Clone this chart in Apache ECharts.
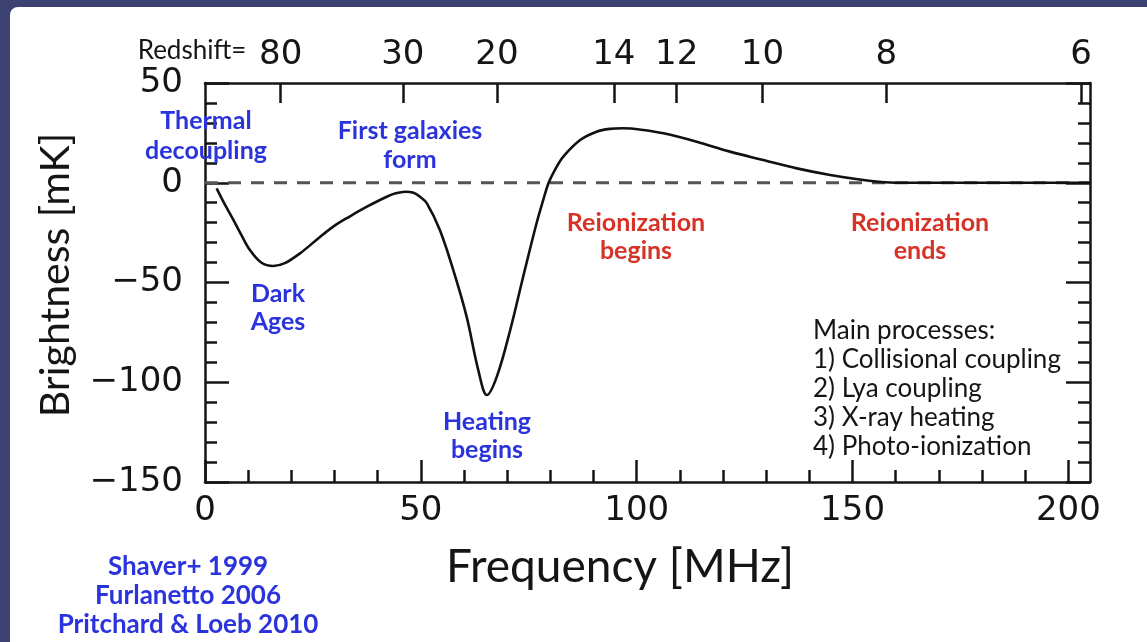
<!DOCTYPE html>
<html>
<head>
<meta charset="utf-8">
<script src="https://cdn.jsdelivr.net/npm/echarts@6/dist/echarts.min.js"></script>
<style>
  html, body { margin: 0; padding: 0; background: #3c4371; }
  #paper { position: absolute; left: 10px; top: 7px; width: 1137px; height: 635px; background: #ffffff; border-top-left-radius: 8px; }
  #chart { position: absolute; left: 0; top: 0; width: 1147px; height: 642px; }
</style>
</head>
<body>
<div id="paper"></div>
<div id="chart"></div>
<script>
// ---- data ----
const freqMHz = [2.7, 4.5, 6.6, 8.5, 10.4, 13.1, 15.8, 18.5, 22.0, 25.8, 29.7, 33.6, 37.5, 42.1, 44.2, 46.4, 48.3, 49.8, 51.4, 54.4, 57.5, 60.6, 63.3, 65.3, 67.6, 70.7, 73.7, 76.8, 78.3, 79.6, 81.2, 83.0, 86.9, 90.7, 93.8, 96.9, 101.0, 106.2, 113.9, 121.6, 129.3, 137.1, 144.8, 152.5, 158.7, 161.5, 205.0];
const brightness_mK = [-2.8, -10.5, -18.7, -26.5, -33.7, -40.1, -41.7, -40.3, -35.4, -28.7, -22.0, -16.8, -12.0, -7.0, -5.3, -4.5, -5.0, -7.0, -10.3, -23.7, -43.7, -67.1, -93.9, -106.4, -97.2, -73.8, -47.1, -20.3, -9.0, 0.0, 7.0, 13.1, 21.4, 25.6, 27.0, 27.3, 26.6, 24.8, 20.6, 15.6, 11.4, 7.2, 3.9, 1.4, 0.1, 0.0, 0.0];
const zeroLineX = [0, 205];
const zeroLineY = [0, 0];

const xMajorTicks = [0, 50, 100, 150, 200];
const xMinorTicks = [10, 20, 30, 40, 60, 70, 80, 90, 110, 120, 130, 140, 160, 170, 180, 190];
const redshiftTicks = [80, 30, 20, 14, 12, 10, 8, 6];
const HI_FREQ = 1420.4; // MHz, rest frequency of the 21 cm line
const redshiftFreqs = redshiftTicks.map(z => HI_FREQ / (1 + z));

const blueNotes = [
  ['Thermal', 206, 121], ['decoupling', 206, 151],
  ['First galaxies', 410, 131], ['form', 410, 160],
  ['Dark', 278, 294], ['Ages', 278, 322],
  ['Heating', 487, 422], ['begins', 487, 450]
];
const redNotes = [
  ['Reionization', 636, 223], ['begins', 636, 251],
  ['Reionization', 920, 223], ['ends', 920, 251]
];
const processLines = ['Main processes:', '1) Collisional coupling', '2) Lya coupling', '3) X-ray heating', '4) Photo-ionization'];
const references = ['Shaver+ 1999', 'Furlanetto 2006', 'Pritchard & Loeb 2010'];

// ---- chart ----
const INK = '#151515';
const NUM_FONT = 'DejaVu Sans';
const TXT_FONT = 'Lato';
const NUM_SIZE = 34;
const axisLine = { show: true, onZero: false, lineStyle: { color: INK, width: 2.5 } };
const tickStyle = { color: INK, width: 2.5 };
const minus = v => String(v).replace('-', '\u2212');

function textEl(t, x, y, color, size, weight, align) {
  return {
    type: 'text', x: x, y: y, z: 100,
    style: {
      text: t, fill: color,
      font: (weight || 'normal') + ' ' + size + 'px ' + TXT_FONT,
      textAlign: align || 'center', textVerticalAlign: 'middle',
      align: align || 'center', verticalAlign: 'middle'
    }
  };
}

const graphics = [];
blueNotes.forEach(n => graphics.push(textEl(n[0], n[1], n[2], '#2a33dc', 25, 'bold')));
redNotes.forEach(n => graphics.push(textEl(n[0], n[1], n[2], '#d63328', 25, 'bold')));
processLines.forEach((t, i) => graphics.push(textEl(t, 813, 331 + i * 29, INK, 26, 'normal', 'left')));
references.forEach((t, i) => graphics.push(textEl(t, 188, 567 + i * 29, '#2a33dc', 26, 'bold')));
graphics.push(textEl('Redshift=', 192, 51, INK, 26, 'normal'));
graphics.push(textEl('Frequency [MHz]', 620, 567, INK, 46, 'normal'));
graphics.push(Object.assign(textEl('Brightness [mK]', 56, 275, INK, 41, 'normal'), { rotation: Math.PI / 2 }));

const chart = echarts.init(document.getElementById('chart'), null, { renderer: 'canvas' });
chart.setOption({
  backgroundColor: 'transparent',
  animation: false,
  grid: { left: 205, top: 83, width: 885, height: 399, containLabel: false },
  xAxis: [
    {
      type: 'value', position: 'bottom', min: 0, max: 205,
      axisLine: axisLine,
      axisTick: { show: true, inside: true, length: 22, customValues: xMajorTicks, lineStyle: tickStyle },
      axisLabel: { customValues: xMajorTicks, fontFamily: NUM_FONT, fontSize: NUM_SIZE, color: INK, margin: 12 },
      splitLine: { show: false }
    },
    {
      type: 'value', position: 'bottom', min: 0, max: 205,
      axisLine: { show: false, onZero: false },
      axisTick: { show: true, inside: true, length: 12, customValues: xMinorTicks, lineStyle: tickStyle },
      axisLabel: { show: false },
      splitLine: { show: false }
    },
    {
      type: 'value', position: 'top', min: 0, max: 205,
      axisLine: axisLine,
      axisTick: { show: true, inside: true, length: 20, customValues: redshiftFreqs, lineStyle: tickStyle },
      axisLabel: {
        customValues: redshiftFreqs, fontFamily: NUM_FONT, fontSize: NUM_SIZE, color: INK, margin: 11,
        formatter: v => String(Math.round(HI_FREQ / v - 1))
      },
      splitLine: { show: false }
    }
  ],
  yAxis: [
    {
      type: 'value', position: 'left', min: -150, max: 50, interval: 50,
      axisLine: axisLine,
      axisTick: { show: true, inside: true, length: 24, lineStyle: tickStyle },
      minorTick: { show: true, splitNumber: 5, length: 12, lineStyle: tickStyle },
      axisLabel: { fontFamily: NUM_FONT, fontSize: NUM_SIZE, color: INK, margin: 22, formatter: minus },
      splitLine: { show: false }, minorSplitLine: { show: false }
    },
    {
      type: 'value', position: 'right', min: -150, max: 50, interval: 50,
      axisLine: axisLine,
      axisTick: { show: true, inside: true, length: 24, lineStyle: tickStyle },
      minorTick: { show: true, splitNumber: 5, length: 12, lineStyle: tickStyle },
      axisLabel: { show: false },
      splitLine: { show: false }, minorSplitLine: { show: false }
    }
  ],
  series: [
    {
      type: 'line', xAxisIndex: 0, yAxisIndex: 0, z: 2,
      data: zeroLineX.map((x, i) => [x, zeroLineY[i]]),
      symbol: 'none', silent: true,
      lineStyle: { color: '#555555', width: 3, type: [13, 10] }
    },
    {
      type: 'line', xAxisIndex: 0, yAxisIndex: 0, z: 3,
      data: freqMHz.map((f, i) => [f, brightness_mK[i]]),
      symbol: 'none', smooth: 0.35,
      lineStyle: { color: '#111111', width: 2.6 }
    }
  ],
  graphic: graphics
});
</script>
</body>
</html>
